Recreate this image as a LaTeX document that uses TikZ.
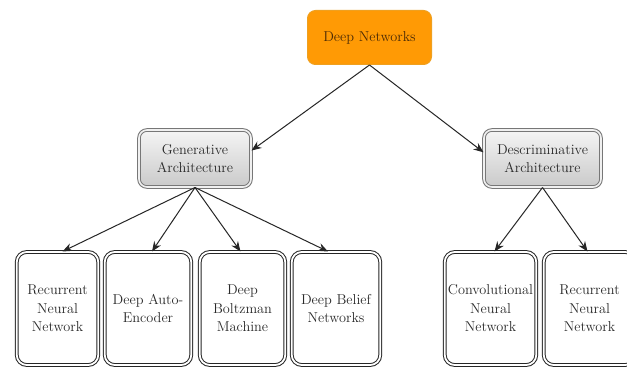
\documentclass[tikz,border=0pt]{standalone}
\usetikzlibrary{arrows.meta,calc}
\definecolor{orangeF}{HTML}{FF9A05}
\definecolor{orangeB}{HTML}{EFA020}
\definecolor{txt}{HTML}{2A2A2A}
\definecolor{dntxt}{HTML}{4A2A05}
\definecolor{grayB}{HTML}{777777}
\begin{document}
\begin{tikzpicture}[x=1pt,y=-1pt,
  every node/.style={font=\rmfamily\fontsize{14.3}{18.5}\selectfont, text=txt, align=center, inner sep=0pt},
  topbox/.style={draw=orangeB, line width=1pt, fill=orangeF, rounded corners=8pt,
    minimum width=124pt, minimum height=54pt, text=dntxt},
  midbox/.style={draw=grayB, line width=1pt, double=gray!12, double distance=1.6pt,
    rounded corners=8pt, top color=gray!8, bottom color=gray!42,
    minimum width=112pt, minimum height=57pt},
  leafbox/.style={draw=black!85, line width=1pt, double=white, double distance=1.8pt,
    rounded corners=10pt, fill=white, minimum height=113pt},
  conn/.style={draw=black!85, line width=1pt, -{Stealth[length=10pt,width=8pt]}}
]
\useasboundingbox (0,0) rectangle (627,369);
\fill[white] (0,0) rectangle (627,369);

\node[topbox] (dn) at (369.5,37.5) {Deep Networks};

\node[midbox] (gen) at (195,158.5) {Generative\\Architecture};
\node[midbox, minimum width=117pt] (desc) at (542.5,158.5) {Descriminative\\Architecture};

\node[leafbox, minimum width=81.5pt] (b1) at (57.5,308.5) {Recurrent\\Neural\\Network};
\node[leafbox, minimum width=86.5pt] (b2) at (148,308.5) {Deep Auto-\\Encoder};
\node[leafbox, minimum width=85.5pt] (b3) at (242.5,308.5) {Deep\\Boltzman\\Machine};
\node[leafbox, minimum width=88.5pt] (b4) at (336,308.5) {Deep Belief\\Networks};
\node[leafbox, minimum width=91.5pt] (b5) at (490.5,308.5) {Convolutional\\Neural\\Network};
\node[leafbox, minimum width=91.5pt] (b6) at (589.5,308.5) {Recurrent\\Neural\\Network};

\draw[conn] (dn.south) -- (gen.8);
\draw[conn] (dn.south) -- (desc.174);

\draw[conn] (gen.south) -- ($(b1.north)+(5,0)$);
\draw[conn] (gen.south) -- ($(b2.north)+(4,0)$);
\draw[conn] (gen.south) -- ($(b3.north)+(-2,0)$);
\draw[conn] (gen.south) -- ($(b4.north)+(-8,0)$);

\draw[conn] (desc.south) -- ($(b5.north)+(4,0)$);
\draw[conn] (desc.south) -- ($(b6.north)+(-2,0)$);
\end{tikzpicture}
\end{document}
